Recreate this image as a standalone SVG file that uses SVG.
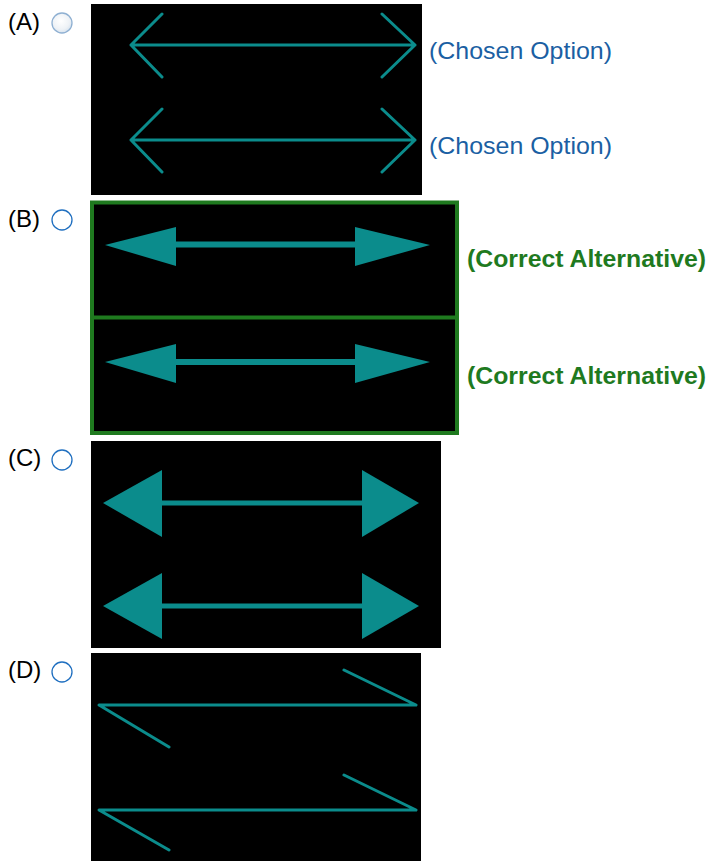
<svg xmlns="http://www.w3.org/2000/svg" width="709" height="861" viewBox="0 0 709 861">
<defs>
<radialGradient id="dis" cx="0.45" cy="0.4" r="0.6">
<stop offset="0" stop-color="#ffffff"/>
<stop offset="0.7" stop-color="#eef2f6"/>
<stop offset="1" stop-color="#d6e2ee"/>
</radialGradient>
<style>
.lbl{font-family:"Liberation Sans",Arial,sans-serif;font-size:24px;fill:#000}
.radio{fill:#fff;stroke:#1f6fc0;stroke-width:1.3}
.panel{fill:#000}
.thin{fill:none;stroke:#0b8c8c;stroke-width:3;stroke-linecap:round;stroke-linejoin:round}
.shaft{fill:none;stroke:#0b8c8c}
.head{fill:#0b8c8c}
.chosen{font-family:"Liberation Sans",Arial,sans-serif;font-size:24px;fill:#1b5fa3}
.correct{font-family:"Liberation Sans",Arial,sans-serif;font-size:24px;font-weight:bold;fill:#1f7a1f}
</style>
</defs>
<rect width="709" height="861" fill="#fff"/>

<g id="optionA">
<text class="lbl" x="8" y="30">(A)</text>
<circle cx="62" cy="23" r="10" fill="url(#dis)" stroke="#8fb0d2" stroke-width="1.3"/>
<rect class="panel" x="91" y="4" width="331" height="191"/>
<path class="thin" d="M131 45H415M162 14L131 45L162 77M382 14L415 45L382 77"/>
<path class="thin" d="M131 140H415M162 109L131 140L162 172M382 109L415 140L382 172"/>
<text class="chosen" x="429" y="59" textLength="183" lengthAdjust="spacingAndGlyphs">(Chosen Option)</text>
<text class="chosen" x="429" y="154" textLength="183" lengthAdjust="spacingAndGlyphs">(Chosen Option)</text>
</g>

<g id="optionB">
<text class="lbl" x="8" y="227">(B)</text>
<circle class="radio" cx="62" cy="220" r="10"/>
<rect class="panel" x="92" y="202.5" width="365" height="230.5"/>
<rect x="92" y="202.5" width="365" height="230.5" fill="none" stroke="#1f7a1f" stroke-width="4"/>
<line x1="92" y1="317.5" x2="457" y2="317.5" stroke="#1f7a1f" stroke-width="4"/>
<line class="shaft" x1="170" y1="244.5" x2="360" y2="244.5" stroke-width="6"/>
<polygon class="head" points="105,245 176,227 176,266"/>
<polygon class="head" points="430,245 355,227 355,266"/>
<line class="shaft" x1="170" y1="362" x2="360" y2="362" stroke-width="6"/>
<polygon class="head" points="105,362 176,344 176,383"/>
<polygon class="head" points="430,362 355,344 355,383"/>
<text class="correct" x="467" y="267" textLength="239" lengthAdjust="spacingAndGlyphs">(Correct Alternative)</text>
<text class="correct" x="467" y="384" textLength="239" lengthAdjust="spacingAndGlyphs">(Correct Alternative)</text>
</g>

<g id="optionC">
<text class="lbl" x="8" y="466">(C)</text>
<circle class="radio" cx="62" cy="460" r="10"/>
<rect class="panel" x="91" y="441" width="350" height="207"/>
<line class="shaft" x1="158" y1="503" x2="366" y2="503" stroke-width="5"/>
<polygon class="head" points="103,503 162,470 162,537"/>
<polygon class="head" points="419,503 362,470 362,537"/>
<line class="shaft" x1="158" y1="606" x2="366" y2="606" stroke-width="5"/>
<polygon class="head" points="103,606 162,573 162,639"/>
<polygon class="head" points="419,606 362,573 362,639"/>
</g>

<g id="optionD">
<text class="lbl" x="8" y="678">(D)</text>
<circle class="radio" cx="62" cy="672" r="10"/>
<rect class="panel" x="91" y="653" width="330" height="208"/>
<path class="thin" d="M344 670L416 705H99L169 747"/>
<path class="thin" d="M344 775L416 810H99L169 850"/>
</g>
</svg>
